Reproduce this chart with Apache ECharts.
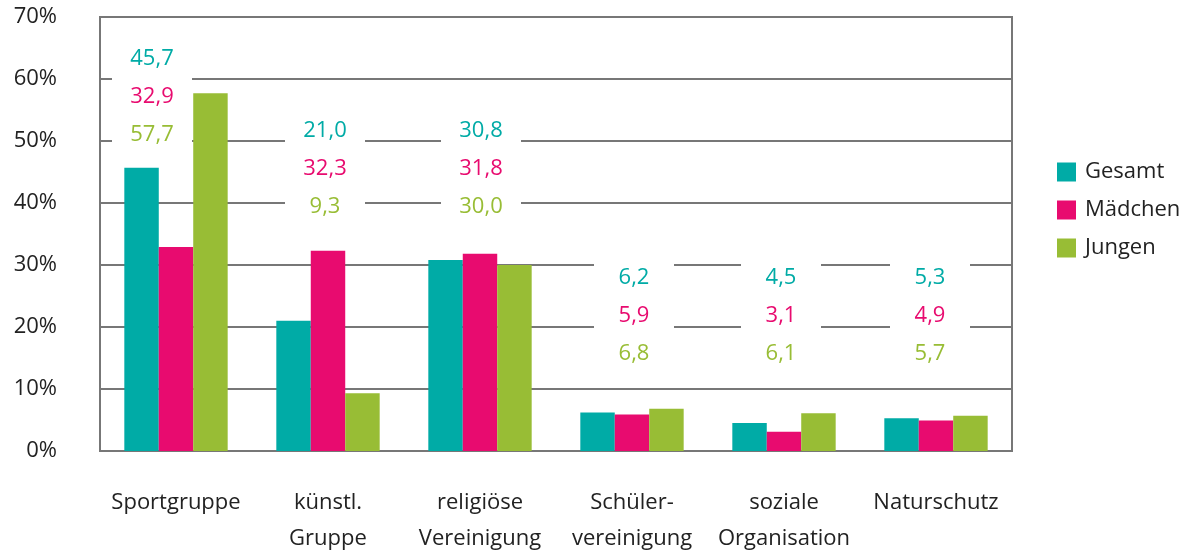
<!DOCTYPE html>
<html>
<head>
<meta charset="utf-8">
<script src="https://cdn.jsdelivr.net/npm/echarts@6/dist/echarts.min.js"></script>
<style>
  html, body { margin: 0; padding: 0; background: #fff; }
  #chart { width: 1184px; height: 551px; }
</style>
</head>
<body>
<div id="chart"></div>
<script>
  // data
  var categories = ['Sportgruppe', 'künstl.\nGruppe', 'religiöse\nVereinigung', 'Schüler-\nvereinigung', 'soziale\nOrganisation', 'Naturschutz']
  var gesamt = [45.7, 21.0, 30.8, 6.2, 4.5, 5.3]
  var maedchen = [32.9, 32.3, 31.8, 5.9, 3.1, 4.9]
  var jungen = [57.7, 9.3, 30.0, 6.8, 6.1, 5.7]
  var yTicks = [0, 10, 20, 30, 40, 50, 60, 70]

  // layout of the value label blocks (middle row level in %, x shift in px)
  var blockLevel = [57.3, 45.7, 45.7, 22.0, 22.0, 22.0]
  var blockShift = [-24, -3, 1, 2, -3, -6]

  var colors = ['#00aba6', '#e80b6f', '#98bd35']
  var fontFamily = 'Open Sans'
  var fmt = function(v) { return v.toFixed(1).replace('.', ',') }

  var chart = echarts.init(document.getElementById('chart'))

  chart.setOption({
    color: colors,
    animation: false,
    textStyle: { fontFamily: fontFamily },
    grid: {
      left: 100,
      right: 172,
      top: 17,
      bottom: 100,
      outerBoundsMode: 'none',
      containLabel: false,
      show: true,
      borderColor: '#777',
      borderWidth: 2,
      backgroundColor: 'transparent'
    },
    legend: {
      orient: 'vertical',
      left: 1052,
      top: 156,
      itemWidth: 19,
      itemHeight: 19,
      itemGap: 16,
      icon: 'rect',
      data: ['Gesamt', 'Mädchen', 'Jungen'],
      textStyle: { fontSize: 22, color: '#222', fontFamily: fontFamily, padding: [0, 0, 0, 4] }
    },
    xAxis: {
      type: 'category',
      data: categories,
      axisLine: { lineStyle: { color: '#777', width: 2 } },
      axisTick: { show: false },
      axisLabel: {
        fontSize: 22,
        color: '#222',
        margin: 34,
        lineHeight: 36,
        fontFamily: fontFamily,
        interval: 0
      }
    },
    yAxis: {
      type: 'value',
      min: yTicks[0],
      max: yTicks[yTicks.length - 1],
      interval: 10,
      axisLine: { show: true, lineStyle: { color: '#777', width: 2 } },
      axisTick: { show: false },
      splitLine: { lineStyle: { color: '#777', width: 2 } },
      axisLabel: {
        fontSize: 22,
        color: '#222',
        margin: 43,
        fontFamily: fontFamily,
        formatter: '{value}%'
      }
    },
    series: [
      { name: 'Gesamt', type: 'bar', data: gesamt, barGap: '0%', barCategoryGap: '32%' },
      { name: 'Mädchen', type: 'bar', data: maedchen, barGap: '0%', barCategoryGap: '32%' },
      { name: 'Jungen', type: 'bar', data: jungen, barGap: '0%', barCategoryGap: '32%' },
      {
        type: 'custom',
        z: 5,
        data: categories.map(function(c, i) { return [i, blockLevel[i]] }),
        renderItem: function(params, api) {
          var i = api.value(0)
          var p = api.coord([i, api.value(1)])
          var cx = p[0] + blockShift[i]
          var cy = p[1]
          var rowH = 38
          var vals = [gesamt[i], maedchen[i], jungen[i]]
          var children = [{
            type: 'rect',
            shape: { x: cx - 40, y: cy - rowH * 1.5, width: 80, height: rowH * 3 },
            style: { fill: '#fff' }
          }]
          vals.forEach(function(v, k) {
            children.push({
              type: 'text',
              x: cx,
              y: cy + (k - 1) * rowH + 1,
              style: {
                text: fmt(v),
                fill: colors[k],
                font: '22px "' + fontFamily + '"',
                align: 'center',
                verticalAlign: 'middle'
              }
            })
          })
          return { type: 'group', children: children }
        }
      }
    ]
  })
</script>
</body>
</html>
